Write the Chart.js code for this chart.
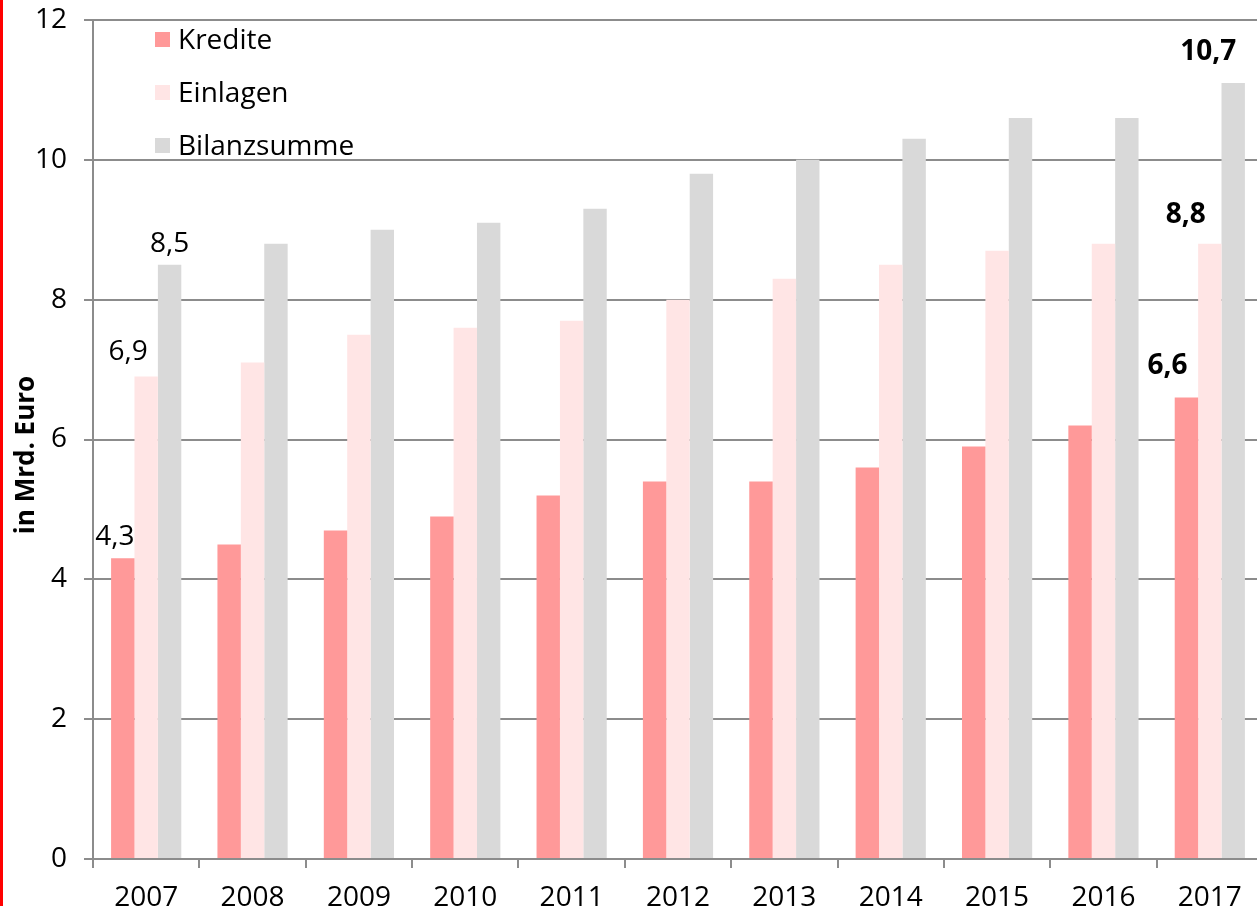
<!DOCTYPE html>
<html>
<head>
<meta charset="utf-8">
<script src="https://cdn.jsdelivr.net/npm/chart.js@4.4.1/dist/chart.umd.min.js"></script>
<style>
  html, body { margin: 0; padding: 0; background: #fff; overflow: hidden; width: 1257px; height: 906px; }
  #redbar { position: absolute; left: 0; top: 0; width: 3px; height: 906px; background: #ff0000; }
  #wrap { position: absolute; left: 3px; top: 0; width: 1260px; height: 906px; }
</style>
</head>
<body>
<div id="redbar"></div>
<div id="wrap"><canvas id="c" width="1260" height="906"></canvas></div>
<script>
// ---- data ----
const years = ['2007','2008','2009','2010','2011','2012','2013','2014','2015','2016','2017'];
const seriesNames = ['Kredite', 'Einlagen', 'Bilanzsumme'];
const kredite     = [4.3, 4.5, 4.7, 4.9, 5.2, 5.4, 5.4, 5.6, 5.9, 6.2, 6.6];
const einlagen    = [6.9, 7.1, 7.5, 7.6, 7.7, 8.0, 8.3, 8.5, 8.7, 8.8, 8.8];
const bilanzsumme = [8.5, 8.8, 9.0, 9.1, 9.3, 9.8, 10.0, 10.3, 10.6, 10.6, 11.1];
const labelsKredite     = ['4,3', null, null, null, null, null, null, null, null, null, '6,6'];
const labelsEinlagen    = ['6,9', null, null, null, null, null, null, null, null, null, '8,8'];
const labelsBilanzsumme = ['8,5', null, null, null, null, null, null, null, null, null, '10,7'];
const yTicks = [0, 2, 4, 6, 8, 10, 12];
const yTitle = 'in Mrd. Euro';

// ---- styles ----
const colors = ['#ff9999', '#ffe5e5', '#d9d9d9'];
const FONT = "'Open Sans', sans-serif";
const FS = 28;
const gridColor = '#8c8c8c';
// label offsets (dx from bar centre, dy above bar top) per dataset: [first year, last year]
const labelOffsets = [
  [{dx: -8, dy: 21, bold: false}, {dx: -19, dy: 32, bold: true}],
  [{dx: -18, dy: 25, bold: false}, {dx: -24, dy: 29, bold: true}],
  [{dx: 0, dy: 21, bold: false}, {dx: -25, dy: 31, bold: true}]
];
const labelSets = [labelsKredite, labelsEinlagen, labelsBilanzsumme];

const valueLabelPlugin = {
  id: 'valueLabels',
  afterDatasetsDraw(chart) {
    const ctx = chart.ctx;
    ctx.save();
    ctx.fillStyle = '#000';
    ctx.textAlign = 'center';
    ctx.textBaseline = 'middle';
    labelSets.forEach((labels, di) => {
      const meta = chart.getDatasetMeta(di);
      labels.forEach((txt, i) => {
        if (!txt) return;
        const bar = meta.data[i];
        const off = labelOffsets[di][i === 0 ? 0 : 1];
        ctx.font = (off.bold ? 'bold ' : '') + FS + 'px ' + FONT;
        ctx.fillText(txt, bar.x + off.dx, bar.y - off.dy);
      });
    });
    ctx.restore();
  }
};

const legendPlugin = {
  id: 'customLegend',
  afterDraw(chart) {
    const ctx = chart.ctx;
    ctx.save();
    ctx.textAlign = 'left';
    ctx.textBaseline = 'middle';
    ctx.font = FS + 'px ' + FONT;
    chart.data.datasets.forEach((ds, i) => {
      const cy = 40 + i * 53;
      ctx.fillStyle = ds.backgroundColor;
      ctx.fillRect(152, cy - 8, 15, 15);
      ctx.fillStyle = '#000';
      ctx.fillText(ds.label, 175, cy + 1);
    });
    ctx.restore();
  }
};

const yTitlePlugin = {
  id: 'yTitle',
  afterDraw(chart) {
    const ctx = chart.ctx;
    ctx.save();
    ctx.translate(24, 455);
    ctx.rotate(-Math.PI / 2);
    ctx.textAlign = 'center';
    ctx.textBaseline = 'middle';
    ctx.font = 'bold 26px ' + FONT;
    ctx.fillStyle = '#000';
    ctx.fillText(yTitle, 0, 0);
    ctx.restore();
  }
};

new Chart(document.getElementById('c'), {
  type: 'bar',
  data: {
    labels: years,
    datasets: [kredite, einlagen, bilanzsumme].map((d, i) => ({
      label: seriesNames[i],
      data: d,
      backgroundColor: colors[i],
      borderWidth: 0,
      categoryPercentage: 0.66,
      barPercentage: 1.0
    }))
  },
  options: {
    responsive: false,
    animation: false,
    layout: { padding: { top: 20, right: 0, left: 0, bottom: 0 } },
    plugins: { legend: { display: false }, tooltip: { enabled: false } },
    scales: {
      x: {
        grid: { drawOnChartArea: false, drawTicks: true, tickLength: 9, color: gridColor, lineWidth: 2, offset: true },
        border: { display: true, color: gridColor, width: 2 },
        ticks: { color: '#000', font: { family: FONT, size: FS }, padding: 13, maxRotation: 0 },
        afterFit(scale) { scale.height = 47; scale.paddingLeft = 0; scale.paddingRight = 0; }
      },
      y: {
        min: 0, max: 12,
        afterBuildTicks(scale) { scale.ticks = yTicks.map(v => ({ value: v })); },
        grid: { color: gridColor, lineWidth: 2, drawTicks: true, tickLength: 9 },
        border: { display: true, color: gridColor, width: 2 },
        ticks: { color: '#000', font: { family: FONT, size: FS }, padding: 17 },
        afterFit(scale) { scale.width = 90; scale.paddingTop = 0; scale.paddingBottom = 0; }
      }
    }
  },
  plugins: [valueLabelPlugin, legendPlugin, yTitlePlugin]
});
</script>
</body>
</html>
